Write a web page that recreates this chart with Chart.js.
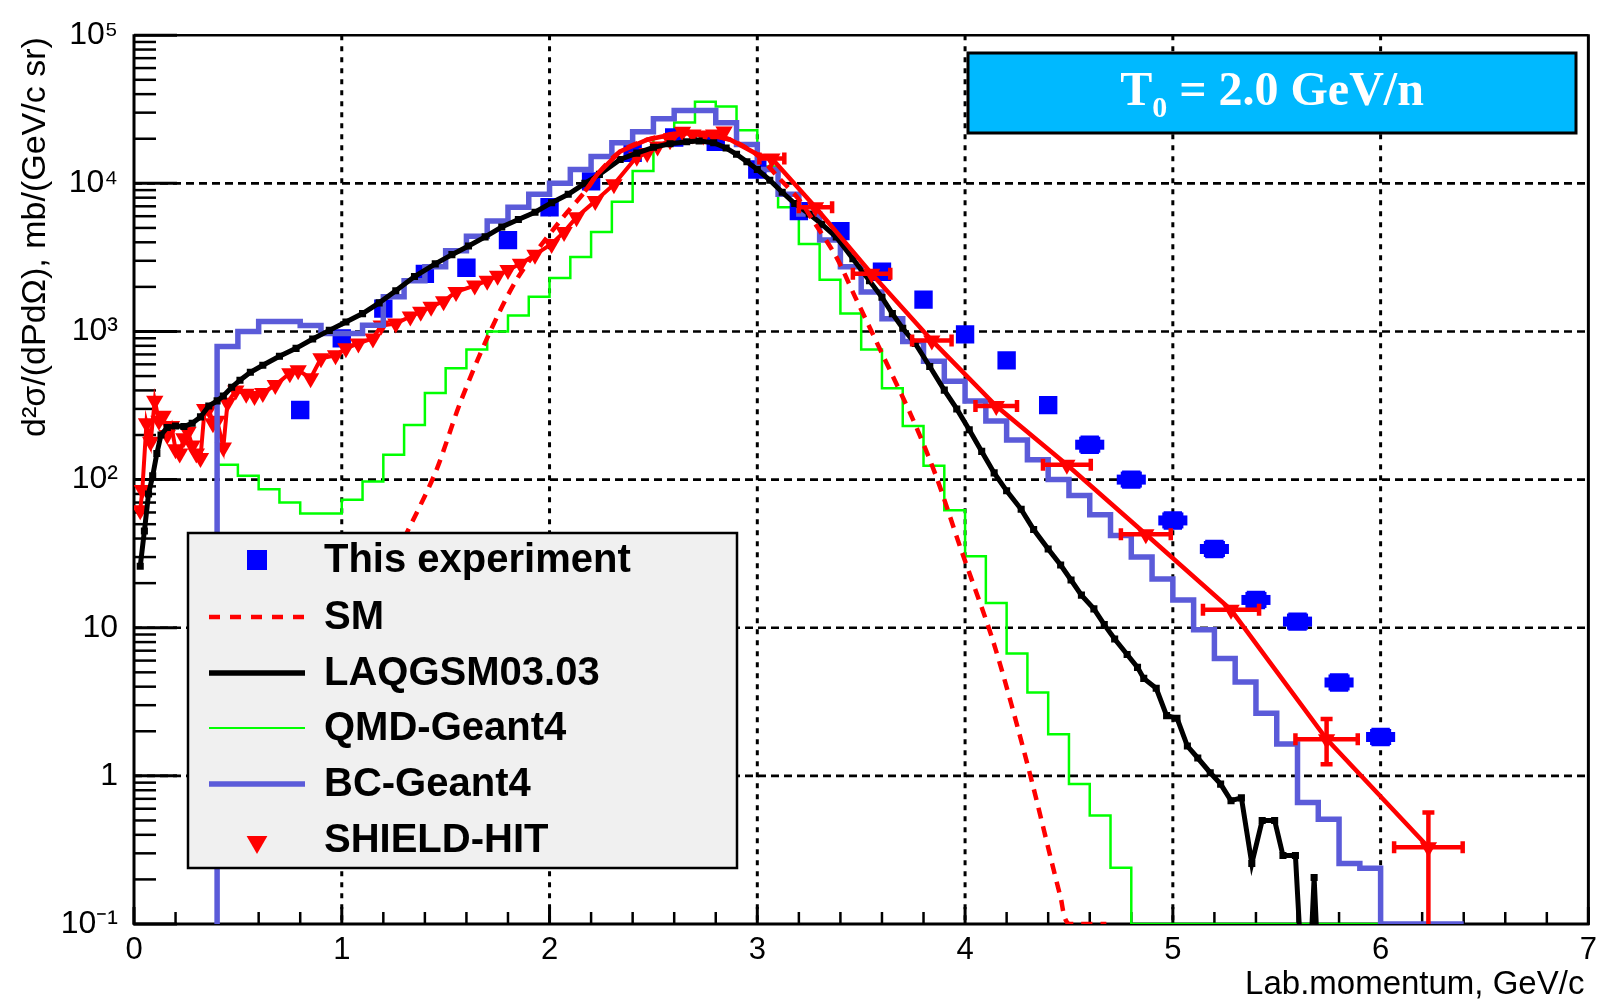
<!DOCTYPE html>
<html>
<head>
<meta charset="utf-8">
<script src="https://cdn.jsdelivr.net/npm/chart.js@4.4.1/dist/chart.umd.min.js"></script>
<style>
  html, body { margin: 0; padding: 0; background: #fff; }
  canvas { display: block; }
</style>
</head>
<body>
<canvas id="spectrumChart" width="1605" height="1004"></canvas>
<script>
// This experiment (blue squares)
const expMomentum = [0.8, 1.0, 1.2, 1.4, 1.6, 1.8, 2.0, 2.2, 2.4, 2.6, 2.8, 3.0, 3.2, 3.4, 3.6, 3.8, 4.0, 4.2, 4.4, 4.6, 4.8, 5.0, 5.2, 5.4, 5.6, 5.8, 6.0]
const expCrossSection = [295, 898, 1426, 2450, 2690, 4140, 6900, 10300, 16100, 20400, 19100, 12400, 6490, 4760, 2530, 1640, 955, 638, 318, 172, 100, 53, 34, 15.4, 11, 4.27, 1.83]
const expMomentumErr = [0, 0, 0, 0, 0, 0, 0, 0, 0, 0, 0, 0, 0, 0, 0, 0, 0, 0, 0, 0.07, 0.07, 0.07, 0.07, 0.07, 0.07, 0.07, 0.07]

// SM (dashed)
const smMomentum = [1.30, 1.45, 1.57, 1.71, 1.85, 2.05, 2.18, 2.23, 2.34, 2.47, 2.61, 2.74, 2.87, 3.00, 3.10, 3.20, 3.27, 3.38, 3.47, 3.60, 3.75, 3.86, 3.98, 4.14, 4.30, 4.46, 4.50, 4.68]
const smCrossSection = [40, 111, 330, 970, 2340, 5560, 9120, 11500, 16400, 19700, 21700, 21700, 19700, 15500, 11000, 7800, 5560, 3190, 1720, 711, 253, 106, 33.9, 7.7, 1.2, 0.151, 0.1, 0.1]

// LAQGSM03.03
const laqMomentum = [0.03, 0.05, 0.07, 0.09, 0.11, 0.13, 0.16, 0.20, 0.24, 0.28, 0.32, 0.36, 0.40, 0.43, 0.47, 0.51, 0.56, 0.62, 0.70, 0.78, 0.86, 0.94, 1.02, 1.10, 1.18, 1.26, 1.35, 1.45, 1.53, 1.61, 1.69, 1.77, 1.85, 1.93, 2.01, 2.09, 2.17, 2.24, 2.34, 2.42, 2.50, 2.58, 2.66, 2.72, 2.79, 2.85, 2.90, 2.95, 3.00, 3.06, 3.12, 3.18, 3.25, 3.31, 3.38, 3.46, 3.54, 3.60, 3.65, 3.70, 3.76, 3.83, 3.90, 3.96, 4.02, 4.08, 4.14, 4.20, 4.27, 4.33, 4.40, 4.46, 4.51, 4.56, 4.62, 4.67, 4.72, 4.78, 4.83, 4.86, 4.92, 4.97, 5.02, 5.07, 5.12, 5.18, 5.23, 5.28, 5.33, 5.38, 5.43, 5.49, 5.53, 5.59, 5.62, 5.66, 5.68, 5.70]
const laqCrossSection = [26, 45, 80, 106, 150, 200, 225, 230, 228, 240, 265, 314, 340, 367, 420, 469, 530, 591, 680, 769, 890, 1017, 1160, 1320, 1560, 1885, 2350, 2860, 3300, 3775, 4350, 5070, 5700, 6380, 7400, 8430, 10000, 11500, 14500, 16000, 17500, 18500, 19100, 19300, 18800, 17300, 15700, 14000, 12400, 10500, 8700, 7300, 6200, 5300, 4340, 3100, 2200, 1700, 1320, 1050, 830, 580, 402, 300, 217, 155, 111, 84, 63, 46, 34, 26.5, 21, 16.6, 13.4, 10.5, 8.4, 6.6, 5.4, 4.55, 3.9, 2.55, 2.45, 1.59, 1.32, 1.05, 0.88, 0.68, 0.71, 0.256, 0.5, 0.5, 0.29, 0.29, 0.05, 0.05, 0.206, 0.05]

// QMD-Geant4 histogram, bins of 0.1 GeV/c from 0.4
const qmdBinStart = 0.4
const qmdCounts = [126, 106, 86, 70, 59, 59, 73, 97, 147, 234, 384, 565, 757, 1000, 1280, 1717, 2300, 3180, 4690, 7500, 12100, 20400, 25700, 35500, 33000, 22800, 13000, 6900, 3900, 2230, 1320, 757, 414, 230, 124, 62, 30.4, 14.7, 6.7, 3.66, 1.91, 0.88, 0.54, 0.24, 0, 0, 0, 0, 0, 0, 0, 0, 0, 0, 0, 0]

// BC-Geant4 histogram, bins of 0.1 GeV/c from 0.4
const bcBinStart = 0.4
const bcCounts = [792, 1000, 1167, 1167, 1097, 970, 970, 1100, 1717, 2200, 2730, 3500, 4400, 5560, 6900, 8430, 10000, 12400, 15200, 18800, 22300, 27300, 31000, 31000, 25600, 18300, 12400, 8430, 6200, 4150, 2730, 1850, 1220, 857, 630, 462, 339, 249, 185, 136, 100, 78, 58, 42, 30, 21.3, 15.4, 9.7, 6.2, 4.3, 2.65, 1.64, 0.66, 0.51, 0.256, 0.238, 0, 0, 0, 0]
const binWidth = 0.1

// SHIELD-HIT, low momentum chain of points
const shieldMomentum = [0.03, 0.04, 0.06, 0.08, 0.10, 0.12, 0.14, 0.16, 0.18, 0.20, 0.22, 0.24, 0.26, 0.28, 0.30, 0.32, 0.34, 0.36, 0.38, 0.40, 0.43, 0.45, 0.49, 0.54, 0.58, 0.62, 0.68, 0.75, 0.79, 0.85, 0.90, 0.97, 1.02, 1.08, 1.15, 1.19, 1.26, 1.33, 1.38, 1.43, 1.49, 1.55, 1.64, 1.70, 1.75, 1.80, 1.86, 1.93, 2.01, 2.07, 2.13, 2.22, 2.31, 2.42, 2.47, 2.52, 2.58, 2.64, 2.69, 2.74, 2.79, 2.84]
const shieldCrossSection = [62, 85, 240, 180, 340, 250, 270, 200, 230, 160, 150, 190, 210, 170, 150, 140, 300, 300, 240, 250, 165, 330, 400, 380, 367, 384, 435, 523, 547, 484, 659, 690, 769, 830, 898, 1097, 1132, 1262, 1360, 1470, 1600, 1850, 2040, 2200, 2380, 2600, 2860, 3300, 3900, 4700, 5900, 7600, 9840, 15100, 16000, 17700, 19500, 22300, 21400, 21000, 21400, 22400]

// SHIELD-HIT, high momentum points with errors
const shieldTailMomentum = [3.07, 3.28, 3.55, 3.84, 4.15, 4.49, 4.87, 5.28, 5.74, 6.23]
const shieldTailCrossSection = [14700, 6900, 2450, 870, 314, 126, 42.8, 13.2, 1.77, 0.33]
const shieldTailMomentumErr = [0.06, 0.08, 0.09, 0.095, 0.10, 0.115, 0.12, 0.135, 0.15, 0.165]
const shieldTailLow = [null, null, null, null, null, null, null, null, 1.2, 0.05]
const shieldTailHigh = [null, null, null, null, null, null, null, null, 2.42, 0.565]

// SHIELD-HIT smooth line
const shieldLineMomentum = [2.17, 2.23, 2.34, 2.47, 2.61, 2.74, 2.87, 3.00, 3.07, 3.28, 3.55, 3.84, 4.15, 4.49, 4.87, 5.28, 5.74, 6.23]
const shieldLineCrossSection = [8830, 11500, 16400, 19700, 21700, 21700, 19700, 15700, 14700, 6900, 2450, 870, 314, 126, 42.8, 13.2, 1.77, 0.33]

const yTickValues = [0.1, 1, 10, 100, 1000, 10000, 100000]
const yTickLabels = ["10\u207B\u00B9", "1", "10", "10\u00B2", "10\u00B3", "10\u2074", "10\u2075"]
const gridMomentum = [1, 2, 3, 4, 5, 6]
const gridCrossSection = [1, 10, 100, 1000, 10000]

const yMin = 0.1
const yMax = 100000

const RED = "#ff0000"
const BLUE = "#0000ff"
const BC_BLUE = "#5b5bd9"
const GREEN = "#00ff00"
const SANS = '"Liberation Sans", Arial, sans-serif'

function toPoints(xs, ys, clampLow) {
  return xs.map((x, i) => ({ x, y: clampLow ? Math.max(ys[i], yMin) : ys[i] }))
}

function histogramPoints(start, counts) {
  const pts = [{ x: start, y: yMin }]
  counts.forEach((c, i) => pts.push({ x: start + i * binWidth, y: Math.max(c, yMin) }))
  pts.push({ x: start + counts.length * binWidth, y: Math.max(counts[counts.length - 1], yMin) })
  return pts
}

function hLine(ctx, x1, x2, y) { ctx.beginPath(); ctx.moveTo(x1, y); ctx.lineTo(x2, y); ctx.stroke() }
function vLine(ctx, x, y1, y2) { ctx.beginPath(); ctx.moveTo(x, y1); ctx.lineTo(x, y2); ctx.stroke() }

function downTriangle(ctx, x, y, r) {
  ctx.beginPath()
  ctx.moveTo(x, y + r)
  ctx.lineTo(x - r * 0.866, y - r * 0.5)
  ctx.lineTo(x + r * 0.866, y - r * 0.5)
  ctx.closePath()
  ctx.fill()
}

const rootStyle = {
  id: "rootStyle",
  beforeDatasetsDraw(chart) {
    const { ctx, chartArea: a, scales: { x, y } } = chart
    ctx.save()
    ctx.strokeStyle = "#000"
    ctx.lineWidth = 3
    ctx.setLineDash([5, 6])
    gridMomentum.forEach((v) => vLine(ctx, x.getPixelForValue(v), a.top, a.bottom))
    ctx.lineWidth = 2.6
    ctx.setLineDash([8, 5])
    gridCrossSection.forEach((v) => hLine(ctx, a.left, a.right, y.getPixelForValue(v)))
    ctx.setLineDash([])

    // frame and ticks, under the curves
    ctx.lineWidth = 3
    vLine(ctx, a.left, a.top - 1, a.bottom + 1)
    hLine(ctx, a.left - 1, a.right + 1, a.bottom)
    vLine(ctx, a.right, a.top - 1, a.bottom + 1)
    ctx.lineWidth = 2.5
    hLine(ctx, a.left, a.right, a.top)

    for (let d = -1; d <= 5; d++) {
      const major = Math.pow(10, d)
      ctx.lineWidth = 3
      hLine(ctx, a.left, a.left + 43, y.getPixelForValue(major))
      if (d === 5) break
      ctx.lineWidth = 2.5
      for (let k = 2; k <= 9; k++) {
        hLine(ctx, a.left, a.left + 22, y.getPixelForValue(k * major))
      }
    }
    for (let i = 0; i <= 35; i++) {
      const v = i / 5
      const isMajor = i % 5 === 0
      ctx.lineWidth = isMajor ? 3 : 2.5
      const px = x.getPixelForValue(v)
      vLine(ctx, px, a.bottom, a.bottom - (isMajor ? 17 : 12))
    }
    ctx.restore()
  },
  afterDatasetsDraw(chart) {
    const { ctx, chartArea: a, scales: { x, y } } = chart
    ctx.save()
    ctx.beginPath()
    ctx.rect(a.left, a.top, a.right - a.left, a.bottom - a.top)
    ctx.clip()

    // experiment error bars
    ctx.fillStyle = BLUE
    expMomentum.forEach((m, i) => {
      if (!expMomentumErr[i]) return
      const px1 = x.getPixelForValue(m - expMomentumErr[i])
      const px2 = x.getPixelForValue(m + expMomentumErr[i])
      const py = y.getPixelForValue(expCrossSection[i])
      ctx.fillRect(px1, py - 5, px2 - px1, 10)
      ctx.fillRect(px1 + 4, py - 8, px2 - px1 - 8, 16)
    })

    // SHIELD-HIT error bars
    ctx.strokeStyle = RED
    ctx.lineWidth = 4.5
    shieldTailMomentum.forEach((m, i) => {
      const px = x.getPixelForValue(m)
      const py = y.getPixelForValue(shieldTailCrossSection[i])
      const px1 = x.getPixelForValue(m - shieldTailMomentumErr[i])
      const px2 = x.getPixelForValue(m + shieldTailMomentumErr[i])
      hLine(ctx, px1, px2, py)
      vLine(ctx, px1, py - 6, py + 6)
      vLine(ctx, px2, py - 6, py + 6)
      if (shieldTailHigh[i] !== null) {
        const pyHi = y.getPixelForValue(shieldTailHigh[i])
        const pyLo = y.getPixelForValue(shieldTailLow[i])
        vLine(ctx, px, pyHi, pyLo)
        hLine(ctx, px - 6, px + 6, pyHi)
        hLine(ctx, px - 6, px + 6, pyLo)
      }
    })
    ctx.restore()
  },
  afterDraw(chart) {
    const { ctx, chartArea: a } = chart
    ctx.save()

    // axis titles
    ctx.fillStyle = "#000"
    ctx.font = "33px " + SANS
    ctx.textAlign = "right"
    ctx.textBaseline = "middle"
    ctx.fillText("Lab.momentum, GeV/c", a.right - 4, 985)

    ctx.save()
    ctx.translate(36, a.top)
    ctx.rotate(-Math.PI / 2)
    ctx.font = "34px " + SANS
    ctx.textAlign = "right"
    ctx.fillText("d\u00B2\u03C3/(dPd\u03A9), mb/(GeV/c sr)", -2, 0)
    ctx.restore()

    // legend
    const lx = 188, ly = 533, lw = 549, lh = 335
    ctx.fillStyle = "#f0f0f0"
    ctx.fillRect(lx, ly, lw, lh)
    ctx.strokeStyle = "#000"
    ctx.lineWidth = 2.5
    ctx.strokeRect(lx, ly, lw, lh)

    const rows = [560, 617, 673, 728, 784, 840]
    const mx1 = 209, mx2 = 305, mc = 257
    ctx.fillStyle = BLUE
    ctx.fillRect(mc - 10, rows[0] - 10, 20, 20)

    ctx.strokeStyle = RED
    ctx.lineWidth = 4.5
    ctx.setLineDash([11, 10])
    hLine(ctx, mx1, mx2, rows[1])
    ctx.setLineDash([])

    ctx.strokeStyle = "#000"
    ctx.lineWidth = 5.5
    hLine(ctx, mx1, mx2, rows[2])

    ctx.strokeStyle = GREEN
    ctx.lineWidth = 2.2
    hLine(ctx, mx1, mx2, rows[3])

    ctx.strokeStyle = BC_BLUE
    ctx.lineWidth = 5.5
    hLine(ctx, mx1, mx2, rows[4])

    ctx.fillStyle = RED
    downTriangle(ctx, mc, rows[5] + 2, 12)

    const names = ["This experiment", "SM", "LAQGSM03.03", "QMD-Geant4", "BC-Geant4", "SHIELD-HIT"]
    ctx.fillStyle = "#000"
    ctx.font = "bold 40px " + SANS
    ctx.textAlign = "left"
    ctx.textBaseline = "middle"
    names.forEach((n, i) => ctx.fillText(n, 324, rows[i] + 1))

    // energy box
    const bx = 968, by = 53, bw = 608, bh = 80
    ctx.fillStyle = "#00b9ff"
    ctx.fillRect(bx, by, bw, bh)
    ctx.strokeStyle = "#000"
    ctx.lineWidth = 3
    ctx.strokeRect(bx, by, bw, bh)

    const mainFont = 'bold 48px "Liberation Serif", "Times New Roman", serif'
    const subFont = 'bold 30px "Liberation Serif", "Times New Roman", serif'
    ctx.textBaseline = "alphabetic"
    ctx.textAlign = "left"
    ctx.font = mainFont
    const wT = ctx.measureText("T").width
    const rest = " = 2.0 GeV/n"
    const wRest = ctx.measureText(rest).width
    ctx.font = subFont
    const wSub = ctx.measureText("0").width
    let tx = bx + bw / 2 - (wT + wSub + wRest) / 2
    const base = 105
    ctx.fillStyle = "#fff"
    ctx.font = mainFont
    ctx.fillText("T", tx, base)
    tx += wT
    ctx.font = subFont
    ctx.fillText("0", tx, base + 12)
    tx += wSub
    ctx.font = mainFont
    ctx.fillText(rest, tx, base)

    ctx.restore()
  }
}

const ctx = document.getElementById("spectrumChart")

new Chart(ctx, {
  type: "line",
  data: {
    datasets: [
      {
        label: "SHIELD-HIT",
        data: toPoints(shieldTailMomentum, shieldTailCrossSection, false),
        showLine: false,
        pointStyle: "triangle",
        pointRotation: 180,
        pointRadius: 10,
        pointBorderWidth: 0,
        backgroundColor: RED,
        borderColor: RED
      },
      {
        label: "SHIELD-HIT line",
        data: toPoints(shieldLineMomentum, shieldLineCrossSection, false),
        borderColor: RED,
        borderWidth: 4.5,
        pointRadius: 0,
        tension: 0
      },
      {
        label: "SM",
        data: toPoints(smMomentum, smCrossSection, true),
        borderColor: RED,
        borderWidth: 4.5,
        borderDash: [11, 8],
        pointRadius: 0,
        tension: 0.3
      },
      {
        label: "LAQGSM03.03",
        data: toPoints(laqMomentum, laqCrossSection, false),
        borderColor: "#000",
        backgroundColor: "#000",
        borderWidth: 5,
        pointStyle: "rect",
        pointRadius: 5,
        pointBorderWidth: 0,
        tension: 0
      },
      {
        label: "BC-Geant4",
        data: histogramPoints(bcBinStart, bcCounts),
        borderColor: BC_BLUE,
        borderWidth: 5.5,
        pointRadius: 0,
        stepped: "before"
      },
      {
        label: "SHIELD-HIT chain",
        data: toPoints(shieldMomentum, shieldCrossSection, false),
        borderColor: RED,
        backgroundColor: RED,
        borderWidth: 4,
        pointStyle: "triangle",
        pointRotation: 180,
        pointRadius: 10,
        pointBorderWidth: 0,
        tension: 0
      },
      {
        label: "This experiment",
        data: toPoints(expMomentum, expCrossSection, false),
        showLine: false,
        pointStyle: "rect",
        pointRadius: 13,
        pointBorderWidth: 0,
        backgroundColor: BLUE,
        borderColor: BLUE
      },
      {
        label: "QMD-Geant4",
        data: histogramPoints(qmdBinStart, qmdCounts),
        borderColor: GREEN,
        borderWidth: 2.5,
        pointRadius: 0,
        stepped: "before"
      }
    ]
  },
  options: {
    responsive: false,
    animation: false,
    devicePixelRatio: 1,
    layout: {
      padding: { top: 30, right: 8, left: 0, bottom: 0 }
    },
    plugins: {
      legend: { display: false },
      tooltip: { enabled: false }
    },
    scales: {
      x: {
        type: "linear",
        min: 0,
        max: 7,
        grid: { display: false, drawTicks: false },
        border: { display: false },
        ticks: {
          stepSize: 1,
          padding: 8,
          color: "#000",
          font: { family: SANS, size: 31 }
        },
        afterFit(scale) {
          scale.height = 80
        }
      },
      y: {
        type: "logarithmic",
        min: yMin,
        max: yMax,
        grid: { display: false, drawTicks: false },
        border: { display: false },
        ticks: {
          padding: 16,
          color: "#000",
          font: { family: SANS, size: 32 },
          callback(value, index) {
            return yTickLabels[index]
          }
        },
        afterBuildTicks(scale) {
          scale.ticks = yTickValues.map((v) => ({ value: v }))
        },
        afterFit(scale) {
          scale.width = 134
        }
      }
    }
  },
  plugins: [rootStyle]
})
</script>
</body>
</html>
